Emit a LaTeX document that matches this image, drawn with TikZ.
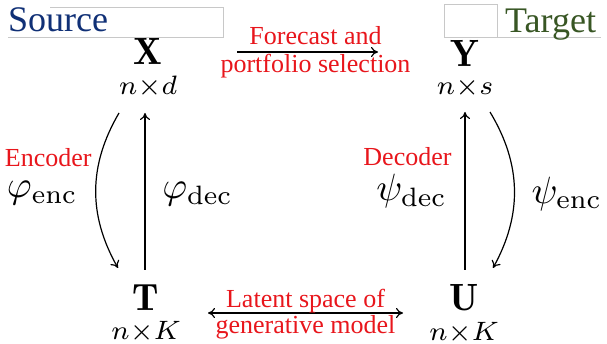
\RequirePackage{fix-cm}
\documentclass[tikz,border=0pt]{standalone}
\usepackage{amsmath}
\usepackage{fontspec}
\newfontfamily\tnrfont{Liberation Serif}
\usetikzlibrary{positioning,arrows.meta}
\definecolor{srcblue}{RGB}{16,48,118}
\definecolor{tgtgreen}{RGB}{56,86,36}
\definecolor{lblred}{RGB}{232,22,28}
\definecolor{boxgray}{RGB}{200,200,200}
\newcommand{\dimmat}[2]{$\underset{#2}{\mathbf{#1}\rule[-1.3pt]{0pt}{1pt}}$}

\begin{document}
\begin{tikzpicture}[
    x=1pt, y=-1pt,
    mat/.style={inner sep=0pt, anchor=north, scale=3.8},
    sym/.style={inner sep=0pt, scale=3.8},
    lbl/.style={inner sep=0pt, text=lblred, font=\tnrfont\fontsize{26}{28}\selectfont},
    head/.style={inner sep=0pt, anchor=base west, font=\tnrfont\fontsize{36}{38}\selectfont},
    arrow/.style={->, >={Computer Modern Rightarrow[length=7pt,width=10pt]}, line width=1.2pt},
    shotframe/.style={draw=boxgray, line width=0.8pt}
]
    \useasboundingbox (0,0) rectangle (607,344);

    % grey frames left around the titles
    \draw[shotframe] (50,7) -- (223,7) -- (223,37) -- (8,37);
    \draw[shotframe] (444,37) -- (444,4) -- (497,4) -- (497,37);
    \draw[shotframe] (444,37) -- (601,37);
    \node[head, text=srcblue] (source) at (8,32) {Source};
    \node[head, text=tgtgreen] (target) at (505,33) {Target};

    \node[mat] (X) at (148,38) {\dimmat{X}{n\times d}};
    \node[mat] (Y) at (465,40) {\dimmat{Y}{n\times s}};
    \node[mat] (T) at (146,284) {\dimmat{T}{n\times K}};
    \node[mat] (U) at (464,284) {\dimmat{U}{n\times K}};

    % source side
    \draw[arrow] ([xshift=-29pt,yshift=-75pt]X.north) to[bend right=30]
        node[anchor=east, xshift=-16pt, yshift=-3pt, sym] (phienc) {$\varphi_{\mathrm{enc}}$}
        ([xshift=-28pt,yshift=16pt]T.north);
    \draw[arrow] ([xshift=-1pt,yshift=14pt]T.north) --
        node[anchor=west, xshift=15pt, yshift=-3pt, sym] (phidec) {$\varphi_{\mathrm{dec}}$}
        ([xshift=-3pt,yshift=-75pt]X.north);
    \node[lbl, above=12pt of phienc, xshift=6pt] (enclbl) {Encoder};

    % target side
    \draw[arrow] ([xshift=1pt,yshift=14pt]U.north) --
        node[anchor=east, xshift=-16pt, sym] (psidec) {$\psi_{\mathrm{dec}}$}
        ([yshift=-72pt]Y.north);
    \draw[arrow] ([xshift=25pt,yshift=-72pt]Y.north) to[bend left=30]
        node[anchor=west, xshift=15pt, yshift=-4pt, sym] (psienc) {$\psi_{\mathrm{enc}}$}
        ([xshift=29pt,yshift=16pt]U.north);
    \node[lbl, above=6pt of psidec, xshift=-4pt] (declbl) {Decoder};

    % horizontal links
    \draw[arrow] ([xshift=89pt,yshift=-14pt]X.north) --
        node[lbl, anchor=base, yshift=7pt, xshift=8pt] (fclbl) {Forecast and}
        node[lbl, anchor=base, yshift=-21pt, xshift=8pt] (pslbl) {portfolio selection}
        ([xshift=-87pt,yshift=-12pt]Y.north);
    \draw[arrow, <->] ([xshift=62pt,yshift=-29pt]T.north) --
        node[lbl, anchor=base, yshift=6pt] (latlbl) {Latent space of}
        node[lbl, anchor=base, yshift=-20pt] (genlbl) {generative model}
        ([xshift=-61pt,yshift=-29pt]U.north);
\end{tikzpicture}
\end{document}
